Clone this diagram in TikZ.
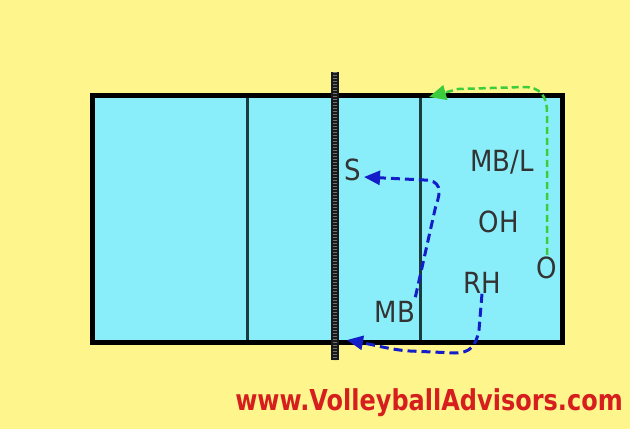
\documentclass[tikz,border=0pt]{standalone}
\usepackage{fontspec}
\setmainfont{DejaVu Sans}
\usetikzlibrary{arrows.meta}
\definecolor{bgyellow}{RGB}{254,246,140}
\definecolor{courtcyan}{RGB}{138,238,250}
\definecolor{attackline}{RGB}{25,60,60}
\definecolor{netcol}{RGB}{25,25,25}
\definecolor{arrblue}{RGB}{20,30,200}
\definecolor{arrgreen}{RGB}{60,205,60}
\definecolor{wmred}{RGB}{215,30,30}
\begin{document}
\begin{tikzpicture}[x=1pt,y=-1pt,
  lbl/.style={font=\fontsize{26}{26}\selectfont, inner sep=0pt, text=black!80},
  attack/.style={line width=3pt, attackline},
  moveblue/.style={line width=3pt, arrblue, dash pattern=on 9pt off 5pt,
     -{Triangle[length=16pt,width=14pt]}},
  movegreen/.style={line width=2.5pt, arrgreen, dash pattern=on 7pt off 4pt,
     -{Triangle[length=17pt,width=15pt]}}]
\fill[bgyellow] (0,0) rectangle (630,429);
\useasboundingbox (0,0) rectangle (630,429);
% court
\fill[courtcyan] (92,95) rectangle (562,342);
\draw[attack] (247,95) -- (247,342);
\draw[attack] (420,95) -- (420,342);
\draw[line width=5pt, black] (92,95) rectangle (562,342);
% net
\draw[line width=8pt, netcol] (335,72) -- (335,360);
\draw[line width=4pt, black!55, dash pattern=on 1pt off 2pt] (335,72) -- (335,360);
% labels
\node[lbl] (S) at (353,170) {\scalebox{1}[1.12]{S}};
\node[lbl] (MBL) at (502,162) {\scalebox{1}[1.12]{MB/L}};
\node[lbl] (OH) at (499,222) {\scalebox{1}[1.12]{OH}};
\node[lbl] (O) at (547,268) {\scalebox{1}[1.12]{O}};
\node[lbl] (RH) at (482,283) {\scalebox{1}[1.12]{RH}};
\node[lbl] (MB) at (395,312) {\scalebox{1}[1.12]{MB}};
% arrow coordinates
\coordinate (sTip) at (364,177);
\coordinate (netTip) at (347,340);
\coordinate (topTip) at (429,97);
% arrows
\draw[moveblue] (MB.north east) ++(0,-4) -- (436,205)
   .. controls (442,190) and (440,180) .. (424,180) -- (sTip);
\draw[moveblue] (RH.south) -- (479,330)
   .. controls (476,346) and (470,353) .. (455,353) -- (410,351)
   .. controls (392,350) and (375,345) .. (netTip);
\draw[movegreen] (O.north) ++(0,-2) -- (547,112)
   .. controls (547,96) and (540,87) .. (524,87) -- (458,89) -- (topTip);
% watermark
\node[font=\bfseries\fontsize{24}{24}\selectfont, text=wmred, inner sep=0pt] (wm) at (429,403) {\scalebox{1}[1.2]{www.VolleyballAdvisors.com}};
\end{tikzpicture}
\end{document}
